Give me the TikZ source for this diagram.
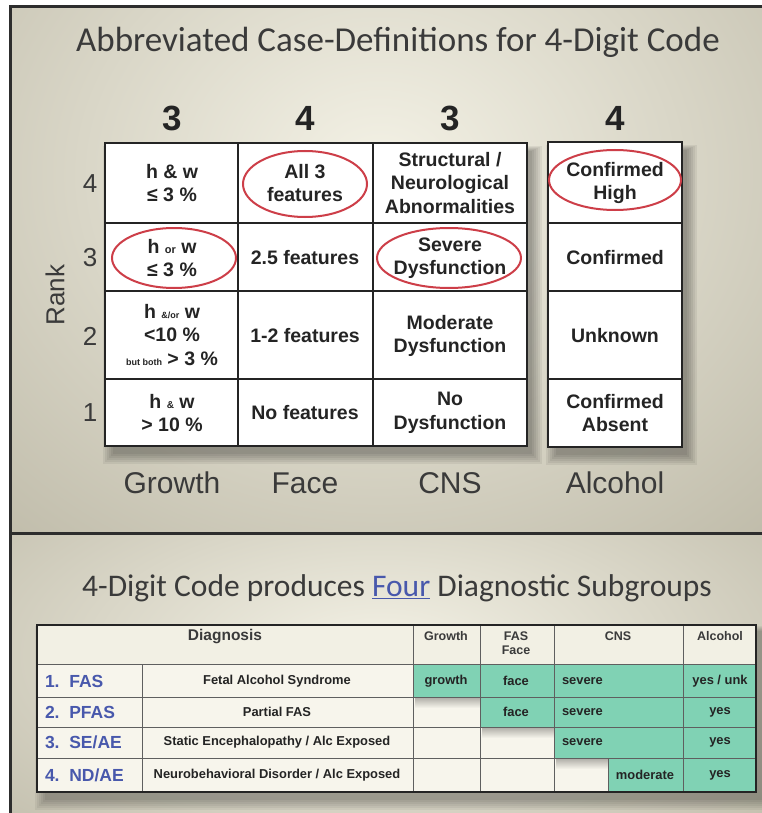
\documentclass[tikz,border=0pt]{standalone}
\usepackage{fontspec}
\setmainfont{Liberation Sans}
\newfontfamily\calib{Carlito}
\definecolor{bgin}{RGB}{244,242,230}
\definecolor{bgout}{RGB}{190,186,168}
\definecolor{ink}{RGB}{36,36,36}
\definecolor{framec}{RGB}{45,45,45}
\definecolor{redc}{RGB}{205,62,72}
\definecolor{greenc}{RGB}{128,210,180}
\definecolor{bluec}{RGB}{72,88,172}
\definecolor{cream}{RGB}{247,245,236}
\definecolor{headc}{RGB}{242,240,228}
\definecolor{labc}{RGB}{58,58,58}
\definecolor{thinl}{RGB}{95,95,95}
\tikzset{
  frame/.style={draw=framec, line width=3pt},
  gridl/.style={draw=ink, line width=2.6pt},
  cell/.style={font=\bfseries\fontsize{19.5}{23.5}\selectfont, align=center, text=ink},
  digit/.style={font=\bfseries\fontsize{35}{40}\selectfont, text=ink},
  rankn/.style={font=\fontsize{26}{30}\selectfont, text=labc},
  collab/.style={font=\fontsize{30}{34}\selectfont, text=labc},
  titletxt/.style={font=\calib\fontsize{35}{40}\selectfont, text=labc},
  redring/.style={draw=redc, line width=2pt},
  thin/.style={draw=thinl, line width=0.9pt},
  bhead/.style={font=\bfseries\fontsize{12.5}{14}\selectfont, text=labc, align=center},
  bcell/.style={font=\bfseries\fontsize{12.9}{14}\selectfont, text=ink},
  blab/.style={font=\bfseries\fontsize{17.5}{19}\selectfont, text=bluec, anchor=west},
}
\begin{document}
\begin{tikzpicture}[x=1pt,y=-1pt, every node/.style={inner sep=0pt, outer sep=0pt}]
\useasboundingbox (0,0) rectangle (762,813);
\fill[white] (0,0) rectangle (762,813);
% panels
\begin{scope}
\clip (10,8) rectangle (762,533);
\shade[inner color=bgin, outer color=bgout] (-220,-330) rectangle (980,680);
\end{scope}
\begin{scope}
\clip (10,533) rectangle (762,813);
\shade[inner color=bgin, outer color=bgout] (-200,380) rectangle (960,930);
\end{scope}
\draw[frame] (10,813) -- (10,7) -- (762,7);
\draw[frame] (10,533) -- (762,533);

% title
\node[titletxt] (title) at (398,42) {Abbreviated Case-Definitions for 4-Digit Code};

% digits
\node[digit] (d1) at (172,118) {3};
\node[digit] (d2) at (305,118) {4};
\node[digit] (d3) at (450,118) {3};
\node[digit] (d4) at (615,118) {4};

% shadows of grid
\foreach \e in {0,2,4,6,8,10}{
  \fill[black,opacity=0.06] ({105+8-\e},{143+8-0.5*\e}) rectangle ({527+5+\e},{446+8+\e});
  \fill[black,opacity=0.06] ({548+8-\e},{142+8-0.5*\e}) rectangle ({682+5+\e},{447+8+\e});
}
% main grid
\fill[white] (105,143) rectangle (527,446);
\draw[gridl] (105,223) -- (527,223);
\draw[gridl] (105,291) -- (527,291);
\draw[gridl] (105,379) -- (527,379);
\draw[gridl] (238,143) -- (238,446);
\draw[gridl] (373,143) -- (373,446);
\draw[gridl] (105,143) rectangle (527,446);
% alcohol column
\fill[white] (548,142) rectangle (682,447);
\draw[gridl] (548,223) -- (682,223);
\draw[gridl] (548,291) -- (682,291);
\draw[gridl] (548,379) -- (682,379);
\draw[gridl] (548,142) rectangle (682,447);

% rank numbers
\node[rankn] (r4) at (90,184) {4};
\node[rankn] (r3) at (90,258) {3};
\node[rankn] (r2) at (90,336) {2};
\node[rankn] (r1) at (90,413) {1};
\node[rankn, rotate=90] (rank) at (55,295) {Rank};

% cells growth
\node[cell] (g4) at (172,183) {h \& w\\≤ 3 \%};
\node[cell] (g3) at (172,258) {h {\fontsize{11}{12}\selectfont or} w\\≤ 3 \%};
\node[cell] (g2) at (172,335) {h {\fontsize{9}{10}\selectfont \&/or} w\\<10 \%\\{\fontsize{9}{10}\selectfont but both} > 3 \%};
\node[cell] (g1) at (172,413) {h {\fontsize{10}{12}\selectfont \&} w\\> 10 \%};
% face
\node[cell] (f4) at (305,183) {All 3\\features};
\node[cell] (f3) at (305,258) {2.5 features};
\node[cell] (f2) at (305,336) {1-2 features};
\node[cell] (f1) at (305,413) {No features};
% CNS
\node[cell] (c4) at (450,183) {Structural /\\Neurological\\Abnormalities};
\node[cell] (c3) at (450,258) {Severe\\Dysfunction};
\node[cell] (c2) at (450,336) {Moderate\\Dysfunction};
\node[cell] (c1) at (450,413) {No\\Dysfunction};
% alcohol
\node[cell] (a4) at (615,183) {Confirmed\\High};
\node[cell] (a3) at (615,258) {Confirmed};
\node[cell] (a2) at (615,336) {Unknown};
\node[cell] (a1) at (615,413) {Confirmed\\Absent};

% red rings
\draw[redring] (305,184) ellipse [x radius=62pt, y radius=33pt];
\draw[redring] (174,258) ellipse [x radius=62pt, y radius=30pt];
\draw[redring] (449,258) ellipse [x radius=72pt, y radius=30pt];
\draw[redring] (615,180) ellipse [x radius=66pt, y radius=30pt];

% column labels
\node[collab] (lg) at (172,483) {Growth};
\node[collab] (lf) at (305,483) {Face};
\node[collab] (lc) at (450,483) {CNS};
\node[collab] (la) at (615,483) {Alcohol};

% subtitle
\node[titletxt, font=\calib\fontsize{31.5}{36}\selectfont] (sub) at (397,588)
  {4-Digit Code produces \textcolor{bluec}{\underline{Four}} Diagnostic Subgroups};

% bottom table shadow
\foreach \e in {0,2,4,6,8,10}{
  \fill[black,opacity=0.05] ({37+8-\e},{625+6-0.5*\e}) rectangle ({756+6+\e},{792+8+\e});
}
\fill[cream] (37,625) rectangle (756,792);
\fill[headc] (37,625) rectangle (756,664);
% green area
\fill[greenc] (413,664) -- (756,664) -- (756,792) -- (608,792) -- (608,758) -- (554,758)
  -- (554,727) -- (480,727) -- (480,697) -- (413,697) -- cycle;
% step shadows
\shade[top color=black!30!cream, bottom color=cream] (415,697) rectangle (480,708);
\shade[top color=black!30!cream, bottom color=cream] (482,727) rectangle (554,738);
\shade[top color=black!30!cream, bottom color=cream] (556,758) rectangle (608,769);
% thin lines
\draw[thin] (37,664) -- (756,664);
\draw[thin] (37,697) -- (756,697);
\draw[thin] (37,727) -- (756,727);
\draw[thin] (37,758) -- (756,758);
\draw[thin] (142,664) -- (142,792);
\draw[thin] (413,625) -- (413,792);
\draw[thin] (480,625) -- (480,792);
\draw[thin] (554,625) -- (554,792);
\draw[thin] (683,625) -- (683,792);
\draw[thin] (608,758) -- (608,792);
\draw[gridl] (37,625) rectangle (756,792);

% header
\node[bhead, font=\bfseries\fontsize{15.5}{17}\selectfont] (hd) at (225,637) {Diagnosis};
\node[bhead] (hg) at (446,636) {Growth};
\node[bhead] (hf) at (516,643) {FAS\\Face};
\node[bhead] (hc) at (618,636) {CNS};
\node[bhead] (ha) at (720,636) {Alcohol};

% rows
\node[blab] (l1) at (45,681) {1.\ \ FAS};
\node[blab] (l2) at (45,712) {2.\ \ PFAS};
\node[blab] (l3) at (45,742) {3.\ \ SE/AE};
\node[blab] (l4) at (45,775) {4.\ \ ND/AE};
\node[bcell] (n1) at (277,681) {Fetal Alcohol Syndrome};
\node[bcell] (n2) at (277,712) {Partial FAS};
\node[bcell] (n3) at (277,742) {Static Encephalopathy / Alc Exposed};
\node[bcell] (n4) at (277,775) {Neurobehavioral Disorder / Alc Exposed};

\node[bcell] (x1g) at (446,681) {growth};
\node[bcell] (x1f) at (516,681) {face};
\node[bcell, anchor=west] (x1c) at (562,681) {severe};
\node[bcell] (x1a) at (720,681) {yes / unk};
\node[bcell] (x2f) at (516,712) {face};
\node[bcell, anchor=west] (x2c) at (562,712) {severe};
\node[bcell] (x2a) at (720,712) {yes};
\node[bcell, anchor=west] (x3c) at (562,742) {severe};
\node[bcell] (x3a) at (720,742) {yes};
\node[bcell] (x4c) at (645,775) {moderate};
\node[bcell] (x4a) at (720,775) {yes};
\end{tikzpicture}
\end{document}
